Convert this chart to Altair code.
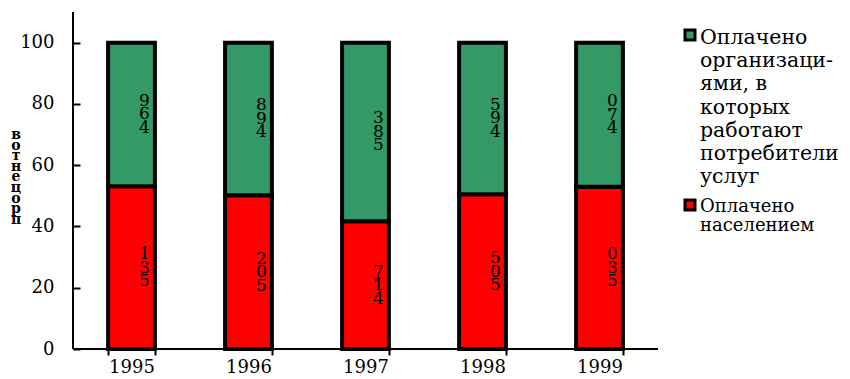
import altair as alt
import pandas as pd

# Source data: share of payments (%) by payer, per year
years = ["1995", "1996", "1997", "1998", "1999"]
paid_by_population = [53.1, 50.2, 41.7, 50.5, 53.0]
paid_by_employers = [46.9, 49.8, 58.3, 49.5, 47.0]

series_names = ["Оплачено населением",
                "Оплачено организациями, в которых работают потребители услуг"]
series_colors = ["#FF0000", "#339966"]

legend_lines_employers = ["Оплачено", "организаци-", "ями, в", "которых",
                          "работают", "потребители", "услуг"]
legend_lines_population = ["Оплачено", "населением"]
y_title_letters = list("вотнецорп")
y_ticks = [0, 20, 40, 60, 80, 100]

FONT = "DejaVu Serif"
W, H = 585, 337
LABEL_LH = 13.5


def stacked_digits(v):
    """Value written as '53,1', then stacked character by character bottom-up."""
    s = f"{v:.1f}".replace(".", ",")[::-1]
    return "\n".join(c for c in s if c != ",")


rows = []
for i, y in enumerate(years):
    for order, (name, vals) in enumerate(zip(series_names,
                                             [paid_by_population, paid_by_employers])):
        rows.append({"year": y, "series": name, "value": vals[i], "order": order,
                     "digits": stacked_digits(vals[i])})
df = pd.DataFrame(rows)
one = pd.DataFrame({"k": [0]})

x_enc = alt.X("year:N", sort=years,
              scale=alt.Scale(paddingInner=0.6, paddingOuter=0.3),
              axis=alt.Axis(title=None, labelAngle=0, tickBand="extent", tickSize=12,
                            offset=-6, domain=False, tickColor="black", tickWidth=2,
                            labelFont=FONT, labelFontSize=18, labelColor="black",
                            labelPadding=3))
y_scale = alt.Scale(domain=[0, 110], nice=False)

base = alt.Chart(df)

bars = base.mark_bar(stroke="black", strokeWidth=4).encode(
    x=x_enc,
    y=alt.Y("value:Q", stack="zero", scale=y_scale,
            axis=alt.Axis(title=None, values=y_ticks, grid=False, domain=False,
                          tickSize=7, offset=-7, tickColor="black", tickWidth=2,
                          labelFont=FONT, labelFontSize=18, labelColor="black",
                          labelPadding=19)),
    color=alt.Color("series:N", scale=alt.Scale(domain=series_names, range=series_colors),
                    legend=None),
    order=alt.Order("order:Q"),
)

stacked = base.transform_stack(
    stack="value", groupby=["year"], as_=["y0", "y1"],
    sort=[alt.SortField("order", order="ascending")]
).transform_calculate(mid="(datum.y0 + datum.y1) / 2")

# three stacked digits centred on the segment middle
labels = stacked.mark_text(font=FONT, fontSize=17, lineHeight=LABEL_LH, lineBreak="\n",
                           baseline="middle", align="center", dx=13, dy=-LABEL_LH,
                           color="black").encode(
    x=alt.X("year:N", sort=years), y=alt.Y("mid:Q", scale=y_scale), text="digits:N")

commas = stacked.mark_text(font=FONT, fontSize=15, baseline="middle", align="center",
                           dx=11, dy=-10, color="black", text=",").encode(
    x=alt.X("year:N", sort=years), y=alt.Y("mid:Q", scale=y_scale))

# axis lines
x_line = alt.Chart(one).mark_rule(color="black", strokeWidth=2).encode(
    x=alt.value(0), x2=alt.value(W), y=alt.value(H))
y_line = alt.Chart(one).mark_rule(color="black", strokeWidth=2).encode(
    x=alt.value(0), y=alt.value(0), y2=alt.value(H))

y_title = alt.Chart(one).mark_text(text=y_title_letters, font=FONT, fontSize=14,
                                   fontWeight="bold", lineHeight=10.6, align="center",
                                   baseline="middle", color="black").encode(
    x=alt.value(-57), y=alt.value(123))

# legend
sym1 = alt.Chart(one).mark_rect(fill=series_colors[1], stroke="black", strokeWidth=3).encode(
    x=alt.value(612), x2=alt.value(622), y=alt.value(18), y2=alt.value(28))
sym2 = alt.Chart(one).mark_rect(fill=series_colors[0], stroke="black", strokeWidth=3).encode(
    x=alt.value(612), x2=alt.value(622), y=alt.value(188), y2=alt.value(198))
leg1 = alt.Chart(one).mark_text(text=legend_lines_employers, font=FONT, fontSize=20.5,
                                lineHeight=23.2, align="left", baseline="alphabetic",
                                color="black").encode(x=alt.value(627), y=alt.value(32))
leg2 = alt.Chart(one).mark_text(text=legend_lines_population, font=FONT, fontSize=18,
                                lineHeight=19, align="left", baseline="alphabetic",
                                color="black").encode(x=alt.value(627), y=alt.value(200))

chart = alt.layer(bars, labels, commas, x_line, y_line, y_title, sym1, sym2, leg1, leg2).properties(
    width=W, height=H,
    autosize=alt.AutoSizeParams(type="none"),
    padding={"left": 73, "top": 12, "right": 850 - 73 - W, "bottom": 379 - 12 - H},
).configure(background="white").configure_view(stroke=None)

chart.save("out.html", embed_options={"renderer": "svg", "actions": False})
